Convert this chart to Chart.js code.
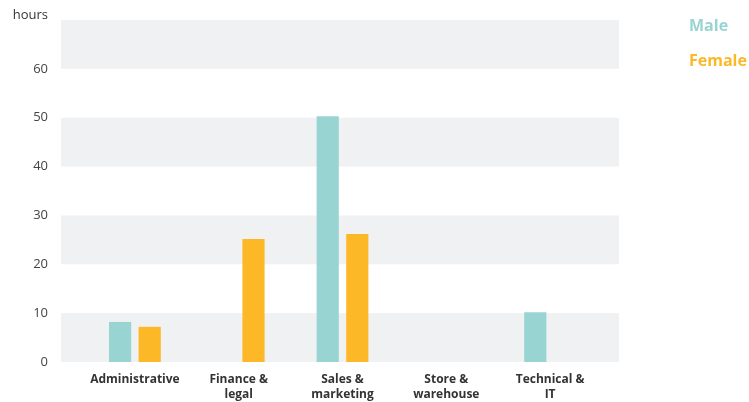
<!DOCTYPE html>
<html>
<head>
<meta charset="utf-8">
<script src="https://cdn.jsdelivr.net/npm/chart.js@4/dist/chart.umd.min.js"></script>
<style>
  html,body{margin:0;padding:0;background:#fff;}
  #wrap{position:relative;width:749px;height:402px;}
  .lg{position:absolute;left:689px;font:bold 16px "Open Sans",sans-serif;}
</style>
</head>
<body>
<div id="wrap">
  <canvas id="ch" width="749" height="402"></canvas>
  <div class="lg" style="top:14px;color:#98D5D2">Male</div>
  <div class="lg" style="top:49px;color:#FDB827">Female</div>
</div>
<script>
// data
const categories = [['Administrative'],['Finance &','legal'],['Sales &','marketing'],['Store &','warehouse'],['Technical &','IT']];
const male   = [8.2, 0, 50.3, 0, 10.2];
const female = [7.2, 25.2, 26.2, 0, 0];
const yTicks = [0,10,20,30,40,50,60,70];

const MALE_C = '#98D5D2', FEMALE_C = '#FDB827';

// alternating grey bands, a bit wider than the category axis
const bands = {
  id:'bands',
  beforeDatasetsDraw(c){
    const {ctx, chartArea:a, scales:{y}} = c;
    ctx.save();
    ctx.fillStyle = '#F0F1F3';
    for(let v=0; v<70; v+=20){
      const t = y.getPixelForValue(v+10), b = y.getPixelForValue(v);
      ctx.fillRect(a.left-22, t, (a.right-a.left)+39, b-t);
    }
    ctx.fillStyle = '#333';
    ctx.font = '13px "Open Sans", sans-serif';
    ctx.textAlign = 'right'; ctx.textBaseline = 'middle';
    ctx.fillText('hours', 48, 15);
    ctx.restore();
  }
};

new Chart(document.getElementById('ch'), {
  type:'bar',
  data:{
    labels:categories,
    datasets:[
      {label:'Male', data:male, backgroundColor:MALE_C},
      {label:'Female', data:female, backgroundColor:FEMALE_C}
    ]
  },
  options:{
    responsive:false, animation:false,
    layout:{padding:{top:20,right:147,left:0,bottom:0}},
    plugins:{legend:{display:false}, tooltip:{enabled:false}},
    datasets:{bar:{categoryPercentage:0.57, barPercentage:0.75}},
    scales:{
      x:{
        grid:{display:false, drawTicks:false}, border:{display:false},
        ticks:{padding:10, color:'#333', font:{family:'Open Sans', size:12, weight:'bold', lineHeight:1.25}, maxRotation:0},
        afterFit(s){ s.height = 40; }
      },
      y:{
        min:0, max:70,
        afterBuildTicks(s){ s.ticks = yTicks.map(v=>({value:v})); },
        grid:{display:false, drawTicks:false}, border:{display:false},
        ticks:{padding:35, color:'#444', font:{family:'Open Sans', size:13},
          callback:v => v===70 ? '' : v},
        afterFit(s){ s.width = 83; s.paddingTop = 0; s.paddingBottom = 0; }
      }
    }
  },
  plugins:[bands]
});
</script>
</body>
</html>
